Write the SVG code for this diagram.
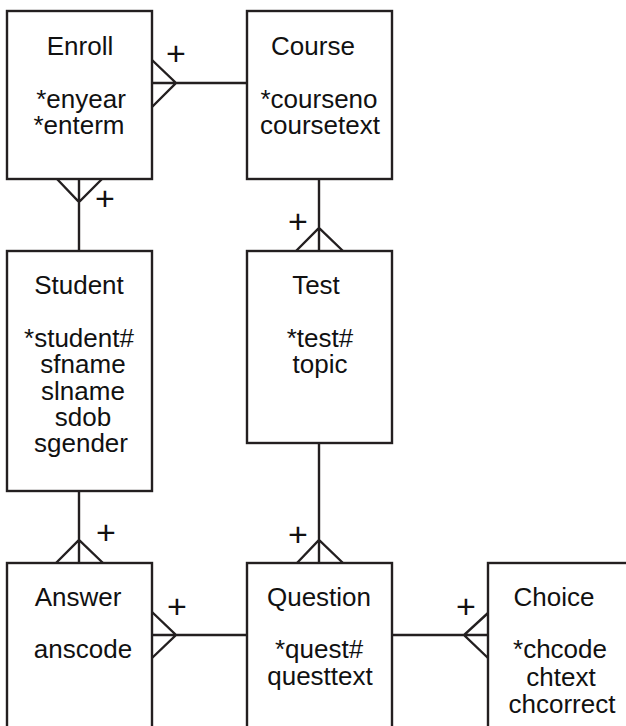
<svg xmlns="http://www.w3.org/2000/svg" width="626" height="726" viewBox="0 0 626 726">
<style>
.box{fill:#fff;stroke:#231f20;stroke-width:2.4}
.ln{fill:none;stroke:#231f20;stroke-width:2.4;stroke-linejoin:miter}
text{font-family:"Liberation Sans",Arial,Helvetica,sans-serif;font-size:26px;fill:#111;text-anchor:middle}
text.p{font-size:34px}
</style>
<rect width="626" height="726" fill="#fff"/>
<g id="connectors">
<path class="ln" d="M152,83 H247 M152,60 L176,83 L152,107"/>
<text class="p" x="176" y="65">+</text>
<path class="ln" d="M79,179 V251 M57,179 L79,202 L102,179"/>
<text class="p" x="105" y="210">+</text>
<path class="ln" d="M319,179 V251 M296,251 L319,228 L343,251"/>
<text class="p" x="298" y="233">+</text>
<path class="ln" d="M79,491 V563 M56,563 L79,540 L103,563"/>
<text class="p" x="106" y="544">+</text>
<path class="ln" d="M319,443 V563 M297,563 L319,540 L343,563"/>
<text class="p" x="298" y="546">+</text>
<path class="ln" d="M152,635 H248 M152,612 L176,635 L152,658"/>
<text class="p" x="177" y="618">+</text>
<path class="ln" d="M392,635 H488 M488,613 L464,635 L488,658"/>
<text class="p" x="466" y="618">+</text>
</g>
<g id="enroll">
<rect class="box" x="7" y="11" width="145" height="168"/>
<text x="80" y="55">Enroll</text>
<text x="81" y="108">*enyear</text>
<text x="79" y="134">*enterm</text>
</g>
<g id="course">
<rect class="box" x="247" y="11" width="145" height="168"/>
<text x="313" y="55">Course</text>
<text x="319" y="108">*courseno</text>
<text x="320" y="134">coursetext</text>
</g>
<g id="student">
<rect class="box" x="7" y="251" width="145" height="240"/>
<text x="79" y="294">Student</text>
<text x="79" y="347">*student#</text>
<text x="83" y="373">sfname</text>
<text x="83" y="400">slname</text>
<text x="83" y="426">sdob</text>
<text x="81" y="452">sgender</text>
</g>
<g id="test">
<rect class="box" x="247" y="251" width="145" height="192"/>
<text x="316" y="294">Test</text>
<text x="320" y="347">*test#</text>
<text x="320" y="373">topic</text>
</g>
<g id="answer">
<rect class="box" x="7" y="563" width="145" height="200"/>
<text x="78" y="606">Answer</text>
<text x="83" y="658">anscode</text>
</g>
<g id="question">
<rect class="box" x="247" y="563" width="145" height="200"/>
<text x="319" y="606">Question</text>
<text x="319" y="658">*quest#</text>
<text x="320" y="685">questtext</text>
</g>
<g id="choice">
<rect class="box" x="488" y="563" width="160" height="200"/>
<text x="554" y="606">Choice</text>
<text x="560" y="658">*chcode</text>
<text x="561" y="686">chtext</text>
<text x="562" y="713">chcorrect</text>
</g>
</svg>
